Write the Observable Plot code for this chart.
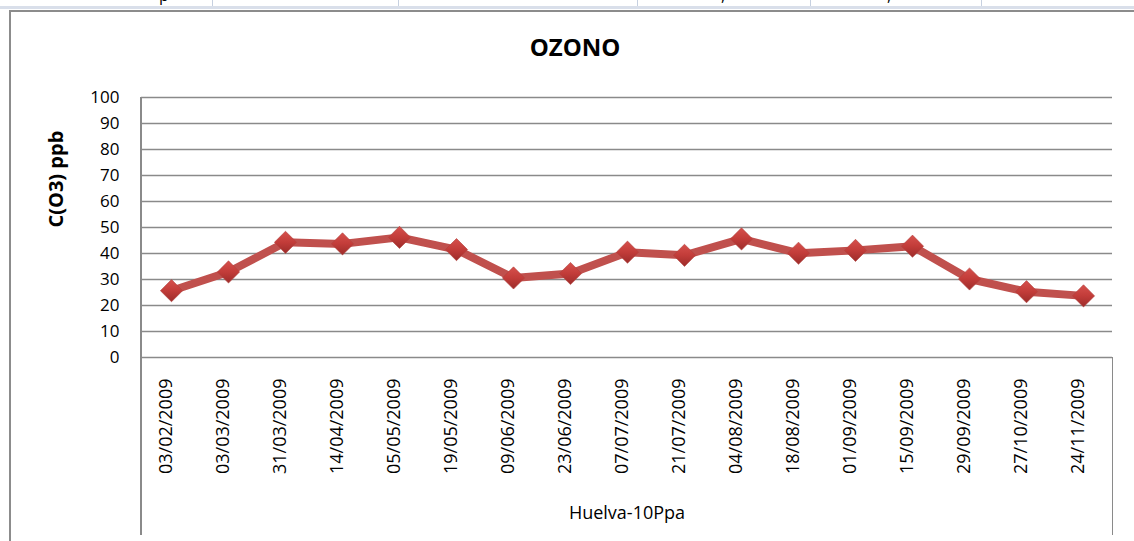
<!DOCTYPE html>
<html>
<head>
<meta charset="utf-8">
<script src="https://cdn.jsdelivr.net/npm/d3@7"></script>
<script src="https://cdn.jsdelivr.net/npm/@observablehq/plot@0.6"></script>
<style>
  html, body { margin: 0; padding: 0; background: #fff; }
  #page { position: relative; width: 1134px; height: 541px; overflow: hidden; font-family: "Open Sans", sans-serif; }
  .abs { position: absolute; }
  #strip { left: 0; top: 0; width: 1134px; height: 6px; overflow: hidden; background: #fff; }
  .cellline { top: 0; width: 1px; height: 6px; background: #c6d0e0; }
  .frag { top: -16px; font-size: 16px; color: #000; font-family: "Open Sans", sans-serif; }
  #band { left: 0; top: 6px; width: 1134px; height: 3px; background: #d9dfea; }
  #border { left: 9px; top: 10px; width: 1200px; height: 600px; border-left: 2px solid #8c8c8c; border-top: 2px solid #8c8c8c; box-sizing: border-box; }
  #title { left: 375px; width: 400px; top: 35px; line-height: 24px; text-align: center; font-size: 24px; font-weight: bold; color: #000; }
  .vline { background: #8a8a8a; width: 1.5px; }
  #chart { left: 0; top: 0; }
</style>
</head>
<body>
<div id="page">
  <div id="strip" class="abs">
    <div class="abs cellline" style="left:212px"></div>
    <div class="abs cellline" style="left:398px"></div>
    <div class="abs cellline" style="left:637px"></div>
    <div class="abs cellline" style="left:810px"></div>
    <div class="abs cellline" style="left:981px"></div>
    <span class="abs frag" style="left:159px">p</span>
    <span class="abs frag" style="left:721px">,</span>
    <span class="abs frag" style="left:887px">,</span>
  </div>
  <div id="band" class="abs"></div>
  <div id="border" class="abs"></div>
  <div id="chart" class="abs"></div>
  <div id="title" class="abs"></div>
  <div class="abs vline" style="left:140px; top:97px; height:438px;"></div>
  <div class="abs vline" style="left:1111.5px; top:357px; height:178px;"></div>
</div>
<script>
const chartTitle = "OZONO";
const yTitle = "C(O3) ppb";
const xTitle = "Huelva-10Ppa";

const dates = [
  "03/02/2009", "03/03/2009", "31/03/2009", "14/04/2009", "05/05/2009",
  "19/05/2009", "09/06/2009", "23/06/2009", "07/07/2009", "21/07/2009",
  "04/08/2009", "18/08/2009", "01/09/2009", "15/09/2009", "29/09/2009",
  "27/10/2009", "24/11/2009"
];
const ozone = [25.7, 32.9, 44.3, 43.7, 46.2, 41.5, 30.6, 32.3, 40.5, 39.3, 45.6, 40.1, 41.2, 42.8, 30.2, 25.3, 23.7];
const yTicks = [0, 10, 20, 30, 40, 50, 60, 70, 80, 90, 100];

const data = dates.map((d, i) => ({date: d, value: ozone[i]}));

document.getElementById("title").textContent = chartTitle;

const svg = Plot.plot({
  width: 1134,
  height: 541,
  marginTop: 97,
  marginBottom: 184,
  marginLeft: 141,
  marginRight: 22,
  style: {fontFamily: "'Open Sans', sans-serif", background: "transparent", overflow: "visible", color: "#000"},
  x: {type: "point", domain: dates, padding: 0.5, axis: null},
  y: {domain: [0, 100], axis: null},
  marks: [
    Plot.ruleY(yTicks, {stroke: "#8a8a8a", strokeWidth: 1.4}),
    Plot.text(yTicks, {y: d => d, text: d => String(d), frameAnchor: "left", dx: -22, textAnchor: "end", fontSize: 17, fill: "#000"}),
    Plot.text(dates, {x: d => d, text: d => d, frameAnchor: "bottom", dy: 21, rotate: -90, textAnchor: "end", fontSize: 18, fill: "#000"}),
    Plot.text([yTitle], {text: d => d, frameAnchor: "left", dx: -85, rotate: -90, fontSize: 20, fontWeight: "bold", fill: "#000"}),
    Plot.text([xTitle], {text: d => d, frameAnchor: "bottom", dy: 161, fontSize: 18, fill: "#000"}),
    Plot.line(data, {x: "date", y: "value", stroke: "#c0504d", strokeWidth: 8, strokeLinejoin: "round", strokeLinecap: "round"}),
    Plot.dot(data, {x: "date", y: "value", symbol: "diamond2", r: 10, fill: "url(#dg)", stroke: "#b0403d", strokeWidth: 0.6})
  ]
});

d3.select(svg).insert("defs", ":first-child").html(
  '<linearGradient id="dg" x1="0" y1="0" x2="0" y2="1">' +
  '<stop offset="0" stop-color="#d6504c"/>' +
  '<stop offset="0.5" stop-color="#c23c39"/>' +
  '<stop offset="1" stop-color="#9c2c2a"/>' +
  '</linearGradient>'
);

document.getElementById("chart").appendChild(svg);
</script>
</body>
</html>
